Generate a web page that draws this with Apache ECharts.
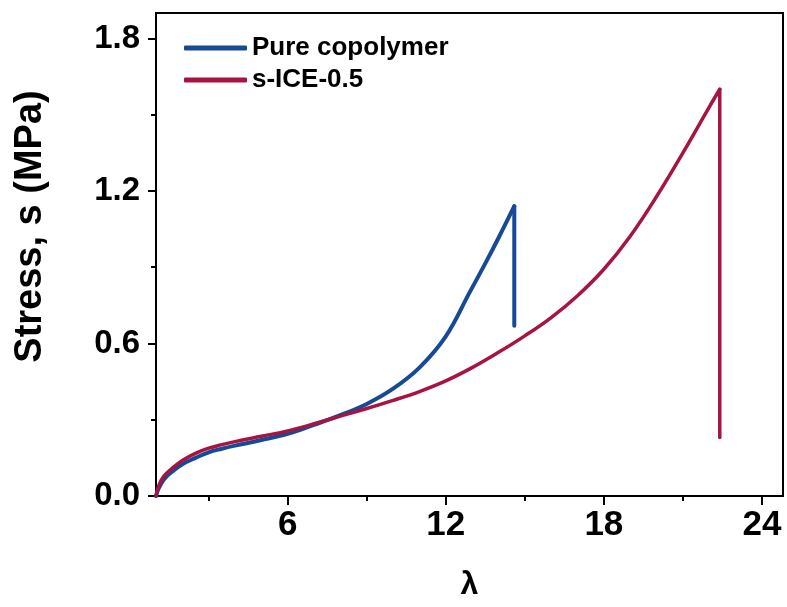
<!DOCTYPE html>
<html>

<head>
    <meta charset="utf-8" />
    <script src="https://cdn.jsdelivr.net/npm/echarts@6/dist/echarts.min.js"></script>
</head>

<body style="margin:0">
    <style>
        #main {
            width: 787px;
            height: 607px;
        }
    </style>
    <div id="main"></div>

    <script type="text/javascript">
        // values: [lambda, stress (MPa)]
        const pureCopolymer = [
            [1.0, 0.0], [1.1, 0.03], [1.3, 0.065], [1.6, 0.095], [2.0, 0.125], [2.5, 0.15],
            [3.0, 0.172], [3.5, 0.186], [4.0, 0.198], [5.0, 0.22], [6.0, 0.245], [7.0, 0.28],
            [8.0, 0.318], [9.0, 0.362], [10.0, 0.422], [11.0, 0.505], [12.0, 0.628], [12.9, 0.8],
            [13.5, 0.915], [14.0, 1.015], [14.6, 1.14]
        ];
        const pureCopolymerBreak = [[14.6, 1.14], [14.6, 0.67]];
        const sIce05 = [
            [1.0, 0.0], [1.1, 0.04], [1.3, 0.078], [1.6, 0.108], [2.0, 0.14], [2.5, 0.168],
            [3.0, 0.188], [3.5, 0.202], [4.0, 0.214], [5.0, 0.235], [6.0, 0.256], [7.0, 0.284],
            [8.0, 0.314], [9.0, 0.344], [10.0, 0.376], [11.0, 0.411], [12.0, 0.453], [13.0, 0.505],
            [14.0, 0.565], [15.0, 0.63], [16.0, 0.702], [17.0, 0.788], [18.0, 0.892], [19.0, 1.022],
            [20.0, 1.178], [21.0, 1.35], [22.0, 1.53], [22.4, 1.6]
        ];
        const sIce05Break = [[22.4, 1.6], [22.4, 0.23]];
        const seriesNames = ['Pure copolymer', 's-ICE-0.5'];
        const seriesColors = ['#164a96', '#a6143f'];
        const xMajor = [6, 12, 18, 24];
        const xMinor = [3, 9, 15, 21];
        const yMajor = [0, 0.6, 1.2, 1.8];
        const yMinor = [0.3, 0.9, 1.5];

        const FONT = 'Liberation Sans';
        var chart = echarts.init(document.getElementById('main'), null, { renderer: 'canvas' });

        const axisLine = { show: true, onZero: false, lineStyle: { color: '#000', width: 2 } };

        function curve(name, data, color, width, smooth) {
            return {
                type: 'line', name: name, data: data,
                showSymbol: false, symbol: 'none', smooth: smooth,
                color: color,
                lineStyle: { width: width, color: color, cap: 'round', join: 'round' }
            };
        }

        chart.setOption({
            animation: false,
            backgroundColor: '#fff',
            textStyle: { fontFamily: FONT },
            grid: {
                left: 156, right: 4, top: 13, bottom: 111,
                show: true, borderColor: '#000', borderWidth: 2
            },
            legend: {
                orient: 'vertical',
                left: 179,
                top: 30,
                itemWidth: 63,
                itemHeight: 5,
                itemGap: 6,
                icon: 'roundRect',
                textStyle: { fontSize: 26, fontWeight: 'bold', color: '#000', padding: [0, 0, 0, 0] },
                data: seriesNames
            },
            xAxis: [
                {
                    type: 'value', min: 1, max: 24.8,
                    name: 'λ', nameLocation: 'middle', nameGap: 73,
                    nameTextStyle: { fontSize: 32, fontWeight: 'bold', color: '#000' },
                    axisLine: axisLine,
                    axisTick: { show: true, length: 9, customValues: xMajor, lineStyle: { color: '#000', width: 2 } },
                    axisLabel: { customValues: xMajor, margin: 12, fontSize: 35, fontWeight: 'bold', color: '#000' },
                    splitLine: { show: false }
                },
                {
                    type: 'value', min: 1, max: 24.8, position: 'bottom',
                    axisLine: { show: false },
                    axisTick: { show: true, length: 5, customValues: xMinor, lineStyle: { color: '#000', width: 2 } },
                    axisLabel: { show: false },
                    splitLine: { show: false }
                }
            ],
            yAxis: [
                {
                    type: 'value', min: 0, max: 1.9,
                    name: 'Stress, s (MPa)', nameLocation: 'middle', nameGap: 106, nameRotate: 90,
                    nameTextStyle: { fontSize: 38, fontWeight: 'bold', color: '#000', padding: [0, 0, 0, 56] },
                    axisLine: axisLine,
                    axisTick: { show: true, length: 8, customValues: yMajor, lineStyle: { color: '#000', width: 2 } },
                    axisLabel: {
                        customValues: yMajor, margin: 16, fontSize: 33, fontWeight: 'bold', color: '#000',
                        formatter: (v) => v.toFixed(1)
                    },
                    splitLine: { show: false }
                },
                {
                    type: 'value', min: 0, max: 1.9, position: 'left',
                    axisLine: { show: false },
                    axisTick: { show: true, length: 5, customValues: yMinor, lineStyle: { color: '#000', width: 2 } },
                    axisLabel: { show: false },
                    splitLine: { show: false }
                }
            ],
            series: [
                curve(seriesNames[0], pureCopolymer, seriesColors[0], 4, 0.4),
                curve(seriesNames[0], pureCopolymerBreak, seriesColors[0], 4, false),
                curve(seriesNames[1], sIce05, seriesColors[1], 3.5, 0.4),
                curve(seriesNames[1], sIce05Break, seriesColors[1], 3.5, false)
            ]
        });
    </script>
</body>

</html>
